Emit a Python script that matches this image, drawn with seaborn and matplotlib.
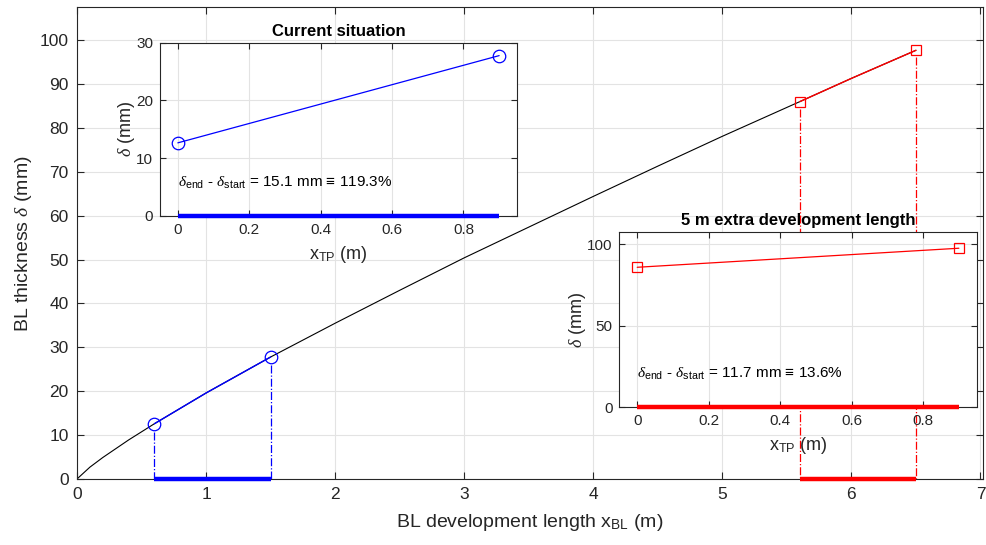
import numpy as np
import pandas as pd
import matplotlib
matplotlib.use("Agg")
import matplotlib.pyplot as plt
import seaborn as sns

# ---- data ----
x_bl = [0.0, 0.1, 0.2, 0.3, 0.4, 0.6, 0.8, 1.0, 1.5, 2.0, 2.5, 3.0, 3.5, 4.0, 4.5, 5.0, 5.6, 6.0, 6.5]
delta_bl = [0.0, 2.7, 4.9, 6.9, 8.9, 12.6, 16.1, 19.6, 27.8, 35.5, 43.0, 50.4, 57.4, 64.4, 71.3, 78.1, 86.0, 91.3, 97.7]

cur_start, cur_end = 0.6, 1.5
ext_start, ext_end = 5.6, 6.5

cur_x_tp = [0.0, 0.9]
cur_delta = [12.66, 27.76]
ext_x_tp = [0.0, 0.9]
ext_delta = [86.0, 97.7]

cur_text = "15.1 mm \u2261 119.3%"
ext_text = "11.7 mm \u2261 13.6%"
cur_title = "Current situation"
ext_title = "5 m extra development length"

main_xticks = [0, 1, 2, 3, 4, 5, 6, 7]
main_yticks = [0, 10, 20, 30, 40, 50, 60, 70, 80, 90, 100]
inset_xticks = [0, 0.2, 0.4, 0.6, 0.8]
inset_xticklabels = ['0', '0.2', '0.4', '0.6', '0.8']
cur_yticks = [0, 10, 20, 30]
ext_yticks = [0, 50, 100]

# ---- style ----
sns.set_theme(style="whitegrid")
plt.rcParams['font.family'] = ['Liberation Sans', 'DejaVu Sans']
plt.rcParams['mathtext.fontset'] = 'custom'
plt.rcParams['mathtext.rm'] = 'Liberation Sans'
plt.rcParams['mathtext.it'] = 'Liberation Serif:italic'
plt.rcParams['mathtext.bf'] = 'Liberation Sans:bold'
plt.rcParams['axes.unicode_minus'] = False

SPINE = '#262626'
GRID = '#e3e3e3'
BLUE = (0, 0, 1)
RED = (1, 0, 0)

def style_axes(ax, tick_size):
    ax.set_facecolor('white')
    for s in ax.spines.values():
        s.set_visible(True)
        s.set_color(SPINE)
        s.set_linewidth(0.8)
    ax.grid(True, color=GRID, linewidth=0.8)
    ax.tick_params(direction='in', length=5, width=0.8, color=SPINE,
                   top=True, right=True, bottom=True, left=True,
                   labelsize=tick_size, labelcolor='#262626', pad=6)
    ax.set_axisbelow(True)

fig = plt.figure(figsize=(9.87, 5.45), dpi=100)

# ---- main axes ----
ax = fig.add_axes([0.078, 0.1211, 0.918, 0.8655])
style_axes(ax, 12.5)
df = pd.DataFrame({'x': x_bl, 'd': delta_bl})
sns.lineplot(data=df, x='x', y='d', ax=ax, color='black', linewidth=0.8,
             sort=False, estimator=None, legend=False)

cur_df = df[(df.x >= cur_start) & (df.x <= cur_end)]
ext_df = df[(df.x >= ext_start) & (df.x <= ext_end)]
sns.lineplot(data=cur_df, x='x', y='d', ax=ax, color=BLUE, linewidth=1.0,
             sort=False, estimator=None, legend=False)
sns.lineplot(data=ext_df, x='x', y='d', ax=ax, color=RED, linewidth=1.0,
             sort=False, estimator=None, legend=False)

d0c = cur_df.d.iloc[0]; d1c = cur_df.d.iloc[-1]
d0e = ext_df.d.iloc[0]; d1e = ext_df.d.iloc[-1]
for xv, yv in [(cur_start, d0c), (cur_end, d1c)]:
    ax.plot([xv, xv], [yv - 1.8, 0], color=BLUE, linestyle='-.', linewidth=0.9, zorder=5)
for xv, yv in [(ext_start, d0e), (ext_end, d1e)]:
    ax.plot([xv, xv], [yv - 1.6, 0], color=RED, linestyle='-.', linewidth=0.9, zorder=5)
ax.plot([cur_start, cur_end], [d0c, d1c], linestyle='none', marker='o', ms=9,
        markerfacecolor='none', markeredgecolor=BLUE, markeredgewidth=0.9, zorder=8)
ax.plot([ext_start, ext_end], [d0e, d1e], linestyle='none', marker='s', ms=7.5,
        markerfacecolor='none', markeredgecolor=RED, markeredgewidth=0.9, zorder=8)
ax.plot([cur_start, cur_end], [0, 0], color=BLUE, linewidth=3.2, solid_capstyle='butt', zorder=6, clip_on=False)
ax.plot([ext_start, ext_end], [0, 0], color=RED, linewidth=3.2, solid_capstyle='butt', zorder=6, clip_on=False)

ax.set_xlim(0, 7.02)
ax.set_ylim(0, 107.5)
ax.set_xticks(main_xticks)
ax.set_yticks(main_yticks)
ax.set_xlabel(r"BL development length x$_{\mathrm{BL}}$ (m)", fontsize=14, color='#262626', labelpad=7)
ax.set_ylabel(r"BL thickness $\delta$ (mm)", fontsize=14, color='#262626', labelpad=4)

# ---- inset helper ----
def make_inset(rect, xs, ys, color, marker, ms, ylim, yticks, title, txt, txt_y):
    ia = fig.add_axes(rect)
    style_axes(ia, 11)
    ia.tick_params(length=4, pad=5)
    idf = pd.DataFrame({'x': xs, 'd': ys})
    sns.lineplot(data=idf, x='x', y='d', ax=ia, color=color, linewidth=0.9,
                 marker=marker, markersize=ms, markerfacecolor='none',
                 markeredgecolor=color, markeredgewidth=0.9,
                 sort=False, estimator=None, legend=False)
    ia.plot([xs[0], xs[-1]], [0, 0], color=color, linewidth=3.2,
            solid_capstyle='butt', clip_on=False, zorder=6)
    ia.set_xlim(-0.05, 0.95)
    ia.set_ylim(*ylim)
    ia.set_xticks(inset_xticks)
    ia.set_xticklabels(inset_xticklabels)
    ia.set_yticks(yticks)
    ia.set_xlabel(r"x$_{\mathrm{TP}}$ (m)", fontsize=13, color='#262626', labelpad=5)
    ia.set_ylabel(r"$\delta$ (mm)", fontsize=13, color='#262626', labelpad=-1)
    ia.set_title(title, fontsize=12, fontweight='bold', color='black', pad=5)
    ia.text(0, txt_y, r"$\delta_{\mathrm{end}}$ - $\delta_{\mathrm{start}}$ = " + txt,
            fontsize=11, va='center', ha='left', color='black')
    return ia

make_inset([0.1621, 0.6037, 0.3617, 0.318], cur_x_tp, cur_delta, BLUE, 'o', 9,
           (0, 30), cur_yticks, cur_title, cur_text, 5.7)
make_inset([0.6275, 0.2527, 0.3621, 0.3211], ext_x_tp, ext_delta, RED, 's', 7.5,
           (0, 107.5), ext_yticks, ext_title, ext_text, 20.4)

fig.savefig("out.png", dpi=100)
